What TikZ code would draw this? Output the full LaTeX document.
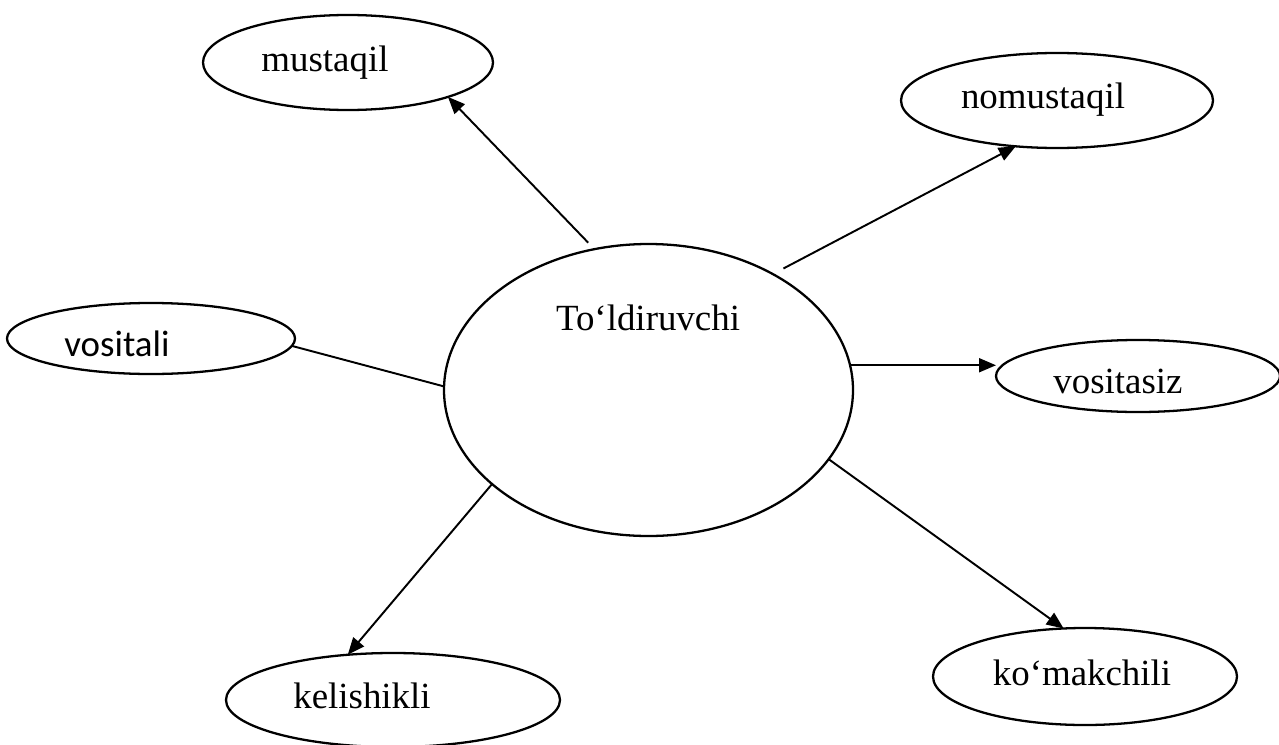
\documentclass[tikz,border=0pt]{standalone}
\usepackage{fontspec}
\setmainfont{Liberation Serif}
\newfontfamily\calibri{Carlito}
\usetikzlibrary{arrows.meta}
\usetikzlibrary{shapes.geometric}

\begin{document}
\begin{tikzpicture}[
        >={Triangle[length=0.34cm,width=0.28cm]},
        every node/.style={font=\fontsize{21}{25}\selectfont},
        oval/.style={draw, ellipse, line width=1.3pt, inner sep=0pt, outer sep=0pt},
        link/.style={line width=1.1pt}
    ]
    \useasboundingbox (0,0) rectangle (25.58,14.88);

    % Central oval
    \node[oval, minimum width=8.18cm, minimum height=5.84cm] (toldiruvchi) at (12.97,7.08) {};
    \node[anchor=base] (toldiruvchiLabel) at (12.96,8.28) {To‘ldiruvchi};

    % Outer ovals
    \node[oval, minimum width=5.8cm, minimum height=1.9cm] (mustaqil) at (6.96,13.63) {};
    \node[oval, minimum width=6.24cm, minimum height=1.9cm] (nomustaqil) at (21.14,12.87) {};
    \node[oval, minimum width=5.76cm, minimum height=1.42cm] (vositali) at (3.02,8.11) {};
    \node[oval, minimum width=5.68cm, minimum height=1.44cm] (vositasiz) at (22.76,7.36) {};
    \node[oval, minimum width=6.68cm, minimum height=1.88cm] (kelishikli) at (7.86,0.88) {};
    \node[oval, minimum width=6.08cm, minimum height=1.94cm] (komakchili) at (21.7,1.35) {};

    % Labels of the outer ovals
    \node[anchor=base] (mustaqilLabel) at (6.5,13.46) {mustaqil};
    \node[anchor=base] (nomustaqilLabel) at (20.86,12.72) {nomustaqil};
    \node[anchor=base, font=\calibri\fontsize{21}{25}\selectfont] (vositaliLabel) at (2.34,7.76) {vositali};
    \node[anchor=base] (vositasizLabel) at (22.36,7.02) {vositasiz};
    \node[anchor=base] (kelishikliLabel) at (7.24,0.72) {kelishikli};
    \node[anchor=base] (komakchiliLabel) at (21.64,1.18) {ko‘makchili};

    % Connectors
    \draw[link,->,shorten <=0.18cm] (toldiruvchi.111.4) -- (mustaqil.-19.3);
    \draw[link,->,shorten <=0.24cm] (toldiruvchi.43.5) -- (nomustaqil.228.5);
    \draw[link] (toldiruvchi.179.4) -- (vositali.-3.4);
    \draw[link,->] (toldiruvchi.7) -- (toldiruvchi.7 -| vositasiz.west);
    \draw[link,->] (toldiruvchi.211.5) -- (kelishikli.135);
    \draw[link,->] (toldiruvchi.-21.3) -- (komakchili.114.6);

\end{tikzpicture}
\end{document}
